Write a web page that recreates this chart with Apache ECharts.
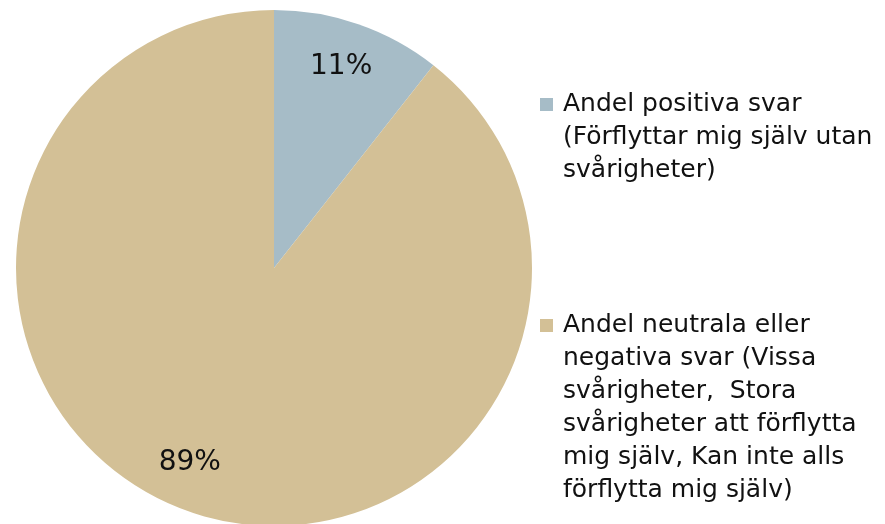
<!DOCTYPE html>
<html>
<head>
<meta charset="utf-8">
<script src="https://cdn.jsdelivr.net/npm/echarts@6/dist/echarts.min.js"></script>
<style>html,body{margin:0;padding:0;background:#fff;}#c{width:885px;height:524px;}</style>
</head>
<body>
<div id="c"></div>
<script>
var categories = [
  'Andel positiva svar (Förflyttar mig själv utan svårigheter)',
  'Andel neutrala eller negativa svar (Vissa svårigheter,  Stora svårigheter att förflytta mig själv, Kan inte alls förflytta mig själv)'
];
var legendLines = [
  ['Andel positiva svar', '(Förflyttar mig själv utan', 'svårigheter)'],
  ['Andel neutrala eller', 'negativa svar (Vissa', 'svårigheter,  Stora', 'svårigheter att förflytta', 'mig själv, Kan inte alls', 'förflytta mig själv)']
];
var values = [10.6, 89.4];
var labels = ['11%', '89%'];
var colors = ['#A6BCC7', '#D3C096'];

var LH = 33;
var FONT = 'DejaVu Sans';
function makeLegend(i, top) {
  var lines = legendLines[i];
  return {
    orient: 'vertical',
    left: 530,
    top: top,
    icon: 'none',
    itemWidth: 0,
    itemHeight: 0,
    itemGap: 0,
    selectedMode: false,
    data: [categories[i]],
    formatter: function () {
      return lines.map(function (l, k) {
        return (k === 0 ? '{m|}{g|}' : '{s|}') + '{t|' + l + '}';
      }).join('\n');
    },
    textStyle: {
      fontFamily: FONT,
      fontSize: 25,
      color: '#111',
      lineHeight: LH,
      rich: {
        m: { width: 13, height: 13, backgroundColor: colors[i] },
        g: { width: 10 },
        s: { width: 23 },
        t: { fontFamily: FONT, fontSize: 25, color: '#111', lineHeight: LH }
      }
    }
  };
}

var chart = echarts.init(document.getElementById('c'));
chart.setOption({
  animation: false,
  color: colors,
  legend: [makeLegend(0, 83), makeLegend(1, 304)],
  series: [{
    type: 'pie',
    center: [274, 268],
    radius: 258,
    startAngle: 90,
    clockwise: true,
    data: categories.map(function (c, i) { return { name: c, value: values[i] }; }),
    itemStyle: { borderWidth: 0 },
    label: {
      show: true,
      position: 'inside',
      fontFamily: FONT,
      fontSize: 28,
      color: '#111',
      formatter: function (p) { return labels[p.dataIndex]; }
    },
    labelLine: { show: false },
    labelLayout: function (p) {
      return p.dataIndex === 0 ? { dx: 24, dy: -77 } : { dx: -41, dy: 70 };
    },
    emphasis: { disabled: true }
  }]
});
</script>
</body>
</html>
